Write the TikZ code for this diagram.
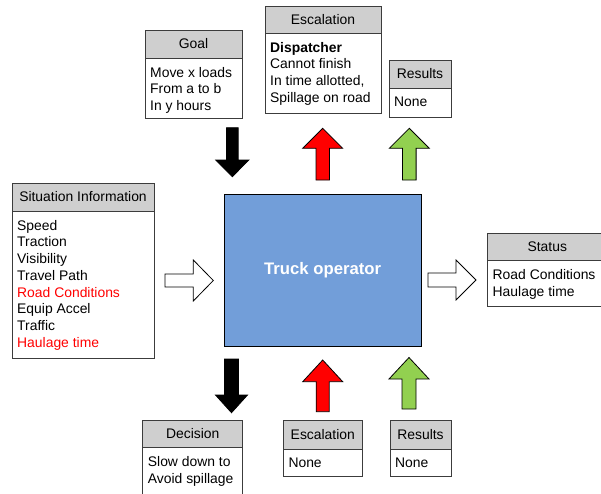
\documentclass[tikz,border=0pt]{standalone}
\usepackage{fontspec}
\setmainfont{Liberation Sans}
\definecolor{headgray}{RGB}{207,207,207}
\definecolor{truckblue}{RGB}{114,158,217}
\definecolor{arrowgreen}{RGB}{146,208,80}
\definecolor{boxedge}{RGB}{60,60,60}

\tikzset{
  txt/.style={font=\fontsize{13.9}{16.7}\selectfont},
  headbox/.style={draw=boxedge, line width=0.8pt, fill=headgray, inner sep=0pt, txt},
  bodybox/.style={draw=boxedge, line width=0.8pt, fill=white, inner sep=0pt},
  bodytext/.style={inner sep=0pt, align=left, txt, anchor=north west},
  truckbox/.style={draw=black, line width=0.8pt, fill=truckblue, text=white,
    font=\bfseries\fontsize{16.7}{20}\selectfont},
  arrowline/.style={draw=black, line width=0.8pt, line join=miter},
  % block arrow pointing along +x with its tip at the origin:
  % total length, head length, head half-width, shaft half-width
  pics/barrow/.style n args={4}{code={
    \path[pic actions] (0,0) -- (-#2,#3) -- (-#2,#4) -- (-#1,#4)
      -- (-#1,-#4) -- (-#2,-#4) -- (-#2,-#3) -- cycle;
  }}
}

% titled box: name, left, top, right, title bottom, bottom, title, body
\newcommand\infobox[8]{%
  \node[headbox, minimum width={(#4-#2)*1pt}, minimum height={(#5-#3)*1pt}]
    (#1-head) at ({(#2+#4)/2},{(#3+#5)/2}) {#7};
  \node[bodybox, minimum width={(#4-#2)*1pt}, minimum height={(#6-#5)*1pt}]
    (#1) at ({(#2+#4)/2},{(#5+#6)/2}) {};
  \node[bodytext] (#1-text) at ({#2+5},{#5+9}) {#8};
}

\begin{document}
\begin{tikzpicture}[x=1pt, y=-1pt]
  \useasboundingbox (0,0) rectangle (601,493);
  \fill[white] (0,0) rectangle (601,493);
  \clip (0,0) rectangle (601,493);

  % central operator
  \node[truckbox, minimum width=196.7pt, minimum height=151.7pt]
    (truck) at (322.65,270.15) {Truck operator};

  % surrounding information boxes
  \infobox{goal}{145}{30}{242}{58}{118}{Goal}{Move x loads\\From a to b\\In y hours}
  \infobox{esctop}{265}{6}{381}{33}{113}{Escalation}
    {\textbf{Dispatcher}\\Cannot finish\\In time allotted,\\Spillage on road}
  \infobox{restop}{389}{60}{451}{88}{117}{Results}{None}
  \infobox{situation}{12}{183}{154}{211}{358}{Situation Information}
    {Speed\\Traction\\Visibility\\Travel Path\\\textcolor{red}{Road Conditions}\\
     Equip Accel\\Traffic\\\textcolor{red}{Haulage time}}
  \infobox{status}{487.5}{233.3}{607}{260.7}{306.7}{Status}{Road Conditions\\Haulage time}
  \infobox{decision}{142.7}{420}{242.7}{447.7}{500}{Decision}{Slow down to\\Avoid spillage}
  \infobox{escbot}{283.3}{420.7}{362.3}{449}{476.7}{Escalation}{None}
  \infobox{resbot}{390}{420.7}{451}{449}{476.7}{Results}{None}

  % block arrows
  \pic[arrowline, fill=black, rotate=-90] at (232.3,176.7) {barrow={49}{16.7}{16.5}{5.8}};
  \pic[arrowline, fill=red, rotate=90] at (322.7,128.3) {barrow={51.7}{20}{20}{6.7}};
  \pic[arrowline, fill=arrowgreen, rotate=90] at (409.3,128.3) {barrow={51.7}{20}{20}{6.8}};
  \pic[arrowline, fill=white] at (213.3,280.5) {barrow={48.3}{20}{20.5}{6.5}};
  \pic[arrowline, fill=white] at (476,280) {barrow={48}{20}{20}{7}};
  \pic[arrowline, fill=black, rotate=-90] at (231.5,412.7) {barrow={53.7}{17.7}{16}{7}};
  \pic[arrowline, fill=red, rotate=90] at (322.7,360) {barrow={51.7}{21.7}{20}{6.5}};
  \pic[arrowline, fill=arrowgreen, rotate=90] at (409,357.5) {barrow={51.5}{21.5}{20}{7}};
\end{tikzpicture}
\end{document}
